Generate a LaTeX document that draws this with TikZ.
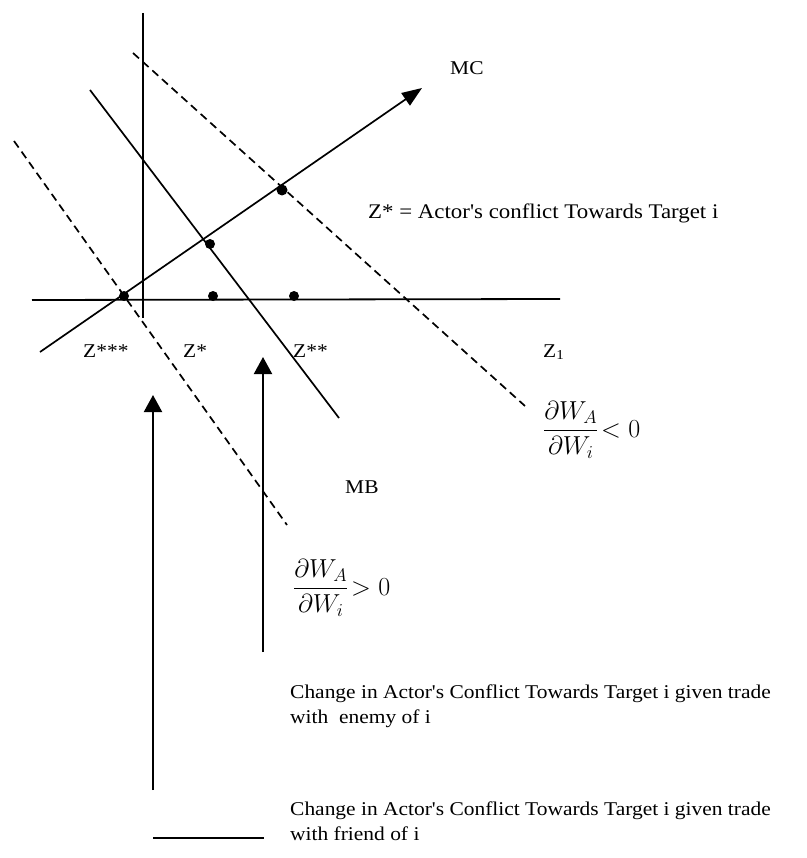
\documentclass[tikz,border=0pt]{standalone}
\usepackage{fix-cm}
\usepackage{amsmath}
\usepackage{fontspec}
\setmainfont{Liberation Serif}
\newfontfamily\bodyfont[FakeStretch=1.1]{Liberation Serif}
\usetikzlibrary{arrows.meta}
\tikzset{
  axisline/.style={line width=1.8pt},
  solidcurve/.style={line width=1.7pt},
  dashcurve/.style={line width=1.7pt, dash pattern=on 8pt off 5pt},
  uparrow/.style={line width=2pt, -{Triangle[width=18pt,length=17pt]}},
  mcarrow/.style={line width=1.7pt, -{Triangle[width=15pt,length=20pt]}},
  dotpt/.style={circle, fill=black, inner sep=0pt, minimum size=10pt},
  lbl/.style={inner sep=0pt, font=\bodyfont\fontsize{19.5}{25}\selectfont},
  blocktxt/.style={inner sep=0pt, align=left, font=\bodyfont\fontsize{19.5}{25}\selectfont},
  fracl/.style={inner sep=0pt, font=\fontsize{26}{30}\selectfont},
}
\begin{document}
\begin{tikzpicture}[x=1pt,y=-1pt]
\useasboundingbox (0,0) rectangle (806,858);
\fill[white] (0,0) rectangle (806,858);
% end points
\coordinate (vTop) at (143,13);
\coordinate (vBot) at (143,318);
\coordinate (hL) at (32,300);
\coordinate (hR) at (560,299);
\coordinate (mcS) at (40,352);
\coordinate (mcE) at (422,88);
\coordinate (mbS) at (90,90);
\coordinate (mbE) at (339,418);
\coordinate (dnS) at (133,53);
\coordinate (dnE) at (525,406);
\coordinate (dpS) at (14,141);
\coordinate (dpE) at (287,525);
\coordinate (a1S) at (153,790);
\coordinate (a1E) at (153,395);
\coordinate (a2S) at (263,652);
\coordinate (a2E) at (263,357);
\coordinate (lgS) at (153,838);
\coordinate (lgE) at (264,838);
% lines
\draw[axisline] (vTop) -- (vBot);
\draw[axisline] (hL) -- (hR);
\draw[dashcurve] (dnS) -- (dnE);
\draw[dashcurve] (dpS) -- (dpE);
\draw[solidcurve] (mbS) -- (mbE);
\draw[mcarrow] (mcS) -- (mcE);
\draw[uparrow] (a1S) -- (a1E);
\draw[uparrow] (a2S) -- (a2E);
\draw[axisline] (lgS) -- (lgE);
% dots
\node[dotpt] (d1) at (124,296) {};
\node[dotpt] (d2) at (210,244) {};
\node[dotpt] (d3) at (213,296) {};
\node[dotpt] (d4) at (294,296) {};
\node[dotpt, minimum size=11pt] (d5) at (282,190) {};
% labels
\node[lbl, anchor=base west] (mc) at (450,75) {MC};
\node[lbl, anchor=base west, font=\bodyfont\fontsize{20.8}{25}\selectfont] (zdef) at (368,219) {Z* = Actor's conflict Towards Target i};
\node[lbl, anchor=base west] (z1) at (543,357) {Z\textsubscript{1}};
\node[lbl, anchor=base west] (z3) at (83,357) {Z***};
\node[lbl, anchor=base west] (z0) at (183,357) {Z*};
\node[lbl, anchor=base west] (z2) at (293,357) {Z**};
\node[lbl, anchor=base west] (mb) at (345,493) {MB};
\node[fracl, anchor=base west] (fneg) at (543,437) {$\dfrac{\partial W_A}{\partial W_i}\!<0$};
\node[fracl, anchor=base west] (fpos) at (293,595) {$\dfrac{\partial W_A}{\partial W_i}\!>0$};
\node[blocktxt, anchor=north west] (t1) at (290,685) {Change in Actor's Conflict Towards Target i given trade\\with\ \ enemy of i};
\node[blocktxt, anchor=north west] (t2) at (290,802) {Change in Actor's Conflict Towards Target i given trade\\with friend of i};
\end{tikzpicture}
\end{document}
